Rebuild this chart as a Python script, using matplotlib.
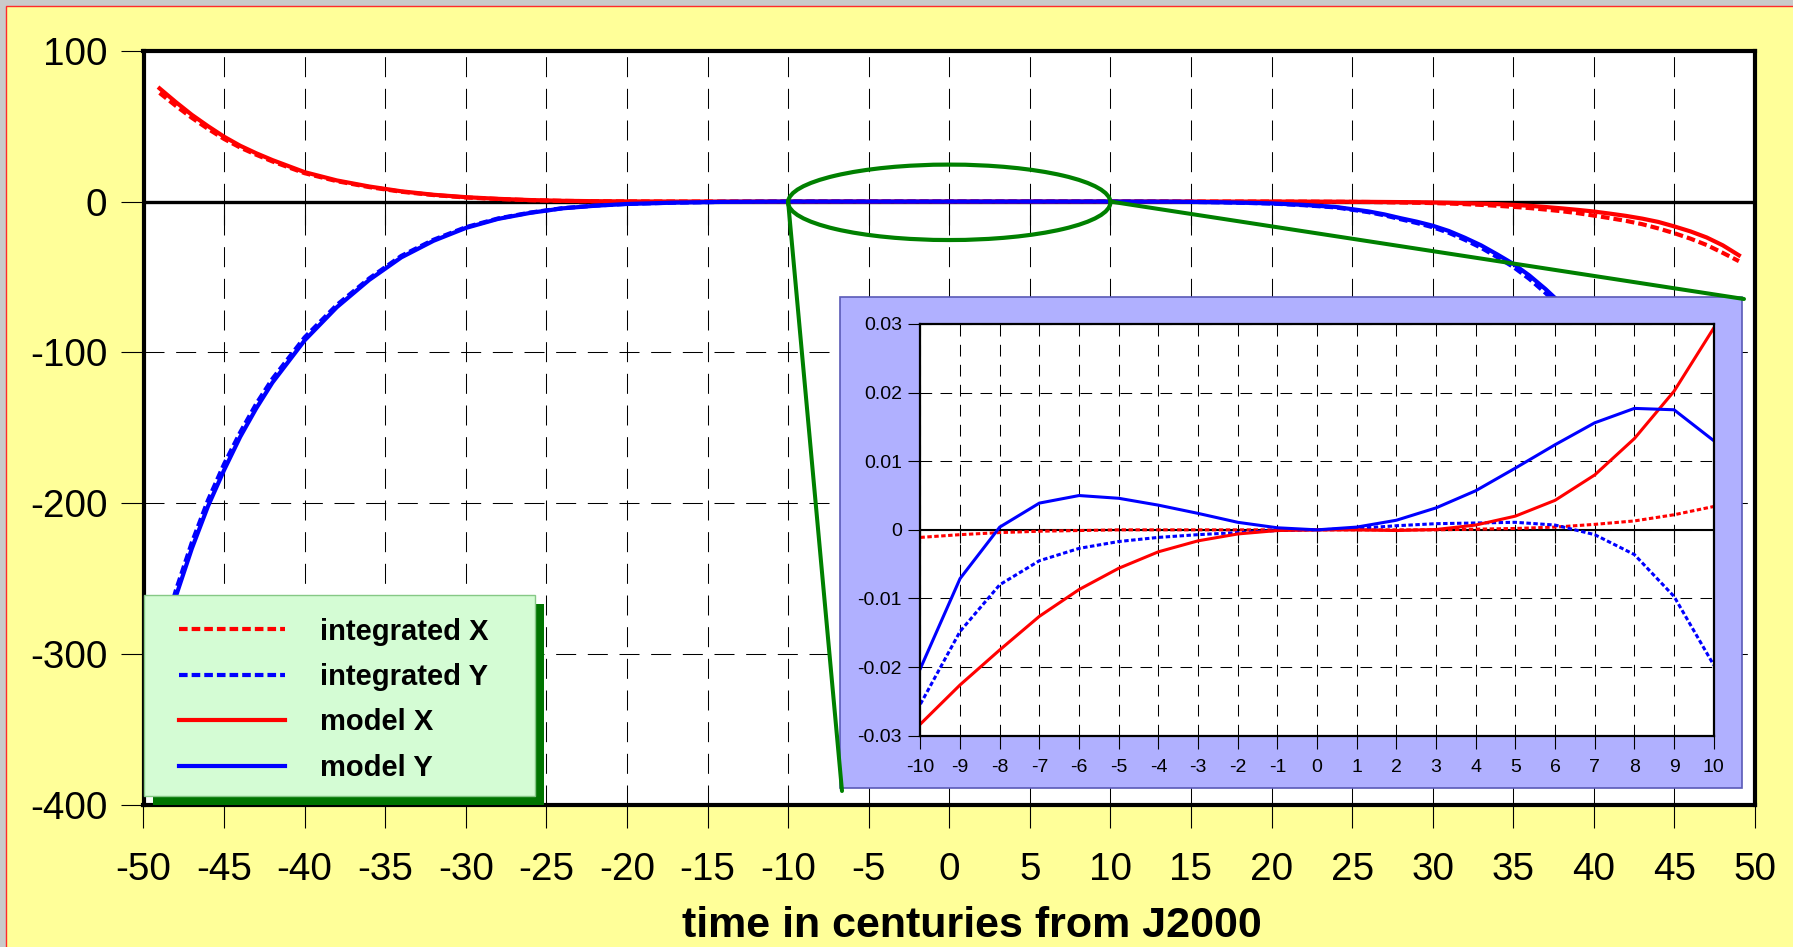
import matplotlib
matplotlib.use('Agg')
import matplotlib.pyplot as plt
from matplotlib.patches import Rectangle, Ellipse, ConnectionPatch

plt.rcParams['font.family'] = ['Liberation Sans', 'DejaVu Sans']
plt.rcParams['axes.unicode_minus'] = False
plt.rcParams['lines.scale_dashes'] = False

# ---------------- data ----------------
T = [-49, -48, -47, -46, -45, -44, -43, -42, -40, -38, -36, -34, -32, -30, -28,
     -26, -24, -22, -20, -17, -14, -10, -5, 0, 5, 10, 14, 17, 20, 22, 24, 26,
     27, 28, 29, 30, 31, 32, 33, 34, 35, 36, 37, 38, 39, 40, 41, 42, 43, 44,
     45, 46, 47, 48, 49]

MODEL_X = [75.0, 66.0, 57.5, 50.0, 43.0, 37.0, 32.0, 27.5, 19.5, 14.0, 10.0, 6.8,
           4.5, 2.9, 1.8, 1.0, 0.5, 0.25, 0.1, 0.03, 0, 0, 0, 0, 0, 0, 0, 0, 0,
           -0.03, -0.1, -0.2, -0.27, -0.35, -0.45, -0.6, -0.8, -1.1, -1.4, -1.7,
           -2.2, -2.8, -3.6, -4.5, -5.5, -6.6, -8.0, -9.5, -11.3, -13.5, -16.5,
           -19.8, -23.8, -29.0, -35.6]

INT_X = [72.0, 63.5, 55.5, 48.2, 41.5, 35.8, 31.0, 26.6, 18.8, 13.5, 9.6, 6.5,
         4.3, 2.7, 1.7, 0.9, 0.45, 0.2, 0.1, 0.02, 0, 0, 0, 0, 0, 0, 0, 0, 0,
         -0.05, -0.15, -0.3, -0.45, -0.6, -0.8, -1.0, -1.3, -1.7, -2.2, -2.8,
         -3.5, -4.3, -5.3, -6.4, -7.7, -9.3, -11.0, -12.8, -15.0, -17.8, -21.0,
         -24.6, -28.8, -34.0, -39.5]

MODEL_Y = [-300, -262, -230, -202, -178, -156, -137, -120, -92, -70, -52, -37,
           -26, -17.5, -11.5, -7.5, -4.5, -2.8, -1.6, -0.7, -0.2, 0, 0, 0, 0, 0,
           -0.1, -0.5, -1.2, -2.2, -3.6, -6.5, -8.5, -11, -13.3, -16, -19.5, -24,
           -29, -35, -41.3, -49, -58, -68, -80, -93, -108, -124, -142, -162,
           -184, -208, -234, -262, -292]

INT_Y = [-295, -258, -226, -198, -174, -153, -134, -117.5, -90, -68.5, -51, -36,
         -25.3, -17, -11.2, -7.3, -4.4, -2.7, -1.5, -0.7, -0.2, 0, 0, 0, 0, 0,
         -0.1, -0.5, -1.3, -2.4, -3.9, -7.0, -9.1, -11.7, -14.2, -17, -20.7,
         -25.4, -30.6, -36.8, -43.3, -51.3, -60.6, -71, -83.5, -97, -112, -129,
         -147, -168, -190, -215, -242, -270, -300]

# inset (zoom on -10..10 centuries)
IN_T = [-10, -9, -8, -7, -6, -5, -4, -3, -2, -1, 0, 1, 2, 3, 4, 5, 6, 7, 8, 9, 10]
IN_MODEL_X = [-0.0283, -0.0226, -0.0175, -0.0126, -0.0087, -0.0056, -0.0032,
              -0.0016, -0.0006, -0.0001, 0.0, 0.0, -0.0001, 0.00005, 0.0007,
              0.0020, 0.0043, 0.0080, 0.0133, 0.0202, 0.0294]
IN_MODEL_Y = [-0.0202, -0.0071, 0.0004, 0.0039, 0.0050, 0.0046, 0.0036, 0.0024,
              0.0011, 0.0003, 0.0, 0.0004, 0.0014, 0.0032, 0.0057, 0.0090,
              0.0124, 0.0156, 0.0177, 0.0175, 0.0130]
IN_INT_X = [-0.0011, -0.0007, -0.0004, -0.0002, -0.0001, 0.0, 0.0, 0.0, 0.0,
            0.0, 0.0, 0.0, 0.0, 0.0, 0.0001, 0.0002, 0.0004, 0.0008, 0.0013,
            0.0022, 0.0034]
IN_INT_Y = [-0.0254, -0.0148, -0.0080, -0.0045, -0.0027, -0.0017, -0.0011,
            -0.0007, -0.0004, -0.0001, 0.0, 0.0002, 0.0006, 0.0009, 0.0010,
            0.0011, 0.0007, -0.0007, -0.0036, -0.0097, -0.0197]

MAIN_XTICKS = [-50, -45, -40, -35, -30, -25, -20, -15, -10, -5, 0, 5, 10, 15,
               20, 25, 30, 35, 40, 45, 50]
MAIN_XLABELS = ['-50', '-45', '-40', '-35', '-30', '-25', '-20', '-15', '-10',
                '-5', '0', '5', '10', '15', '20', '25', '30', '35', '40', '45', '50']
MAIN_YTICKS = [-400, -300, -200, -100, 0, 100]
MAIN_YLABELS = ['-400', '-300', '-200', '-100', '0', '100']
IN_XTICKS = IN_T
IN_XLABELS = ['-10', '-9', '-8', '-7', '-6', '-5', '-4', '-3', '-2', '-1', '0',
              '1', '2', '3', '4', '5', '6', '7', '8', '9', '10']
IN_YTICKS = [-0.03, -0.02, -0.01, 0.0, 0.01, 0.02, 0.03]
IN_YLABELS = ['-0.03', '-0.02', '-0.01', '0', '0.01', '0.02', '0.03']

LABELS = ['integrated X', 'integrated Y', 'model X', 'model Y']
XLABEL = 'time in centuries from J2000'

# ---------------- styles ----------------
RED = '#FF0000'
BLUE = '#0000FF'
GREEN = '#008000'
DASH_MAIN = (0, (6.2, 2.9))
DASH_IN = (0, (3.2, 1.8))
GRID_MAIN = (0, (14.4, 8.4))
GRID_IN = (0, (8.4, 6.0))

W, H = 1793, 947
fig = plt.figure(figsize=(W / 100, H / 100), dpi=100, facecolor='#CACACA')


def fx(px):
    return px / W


def fy(py):
    return 1 - py / H


# yellow slide background with thin red border
fig.patches.append(Rectangle((fx(6), -0.05), 1.2, fy(6) + 0.05,
                             transform=fig.transFigure, facecolor='#FFFF99',
                             edgecolor='#FF2A2A', lw=1.0, zorder=-10))

# ---------------- main axes ----------------
L, R, TOP, BOT = 143.5, 1755, 50.7, 805
ax = fig.add_axes([fx(L), fy(BOT), (R - L) / W, (BOT - TOP) / H])
ax.set_facecolor('white')
ax.set_xlim(-50, 50)
ax.set_ylim(-400, 100)
ax.set_xticks(MAIN_XTICKS)
ax.set_xticklabels(MAIN_XLABELS)
ax.set_yticks(MAIN_YTICKS)
ax.set_yticklabels(MAIN_YLABELS)
ax.tick_params(axis='both', direction='out', length=16.5, width=0.8,
               color='black', labelsize=27.8)
ax.tick_params(axis='x', pad=17.5)
ax.tick_params(axis='y', pad=9.5)
for s in ax.spines.values():
    s.set_linewidth(3)
    s.set_color('black')
ax.set_axisbelow(True)
ax.grid(True, color='black', lw=0.75, linestyle=GRID_MAIN)
ax.axhline(0, color='black', lw=2.4, zorder=1.5)
ax.plot(MAIN_XTICKS, [0] * len(MAIN_XTICKS), ls='none', marker=3, ms=16.5,
        mew=0.8, color='black', zorder=1.6)

h_ix, = ax.plot(T, INT_X, color=RED, lw=3, ls=DASH_MAIN, zorder=2)
h_iy, = ax.plot(T, INT_Y, color=BLUE, lw=3, ls=DASH_MAIN, zorder=2)
h_mx, = ax.plot(T, MODEL_X, color=RED, lw=3, zorder=2.1)
h_my, = ax.plot(T, MODEL_Y, color=BLUE, lw=3, zorder=2.1)

ax.add_patch(Ellipse((0, -0.5), 20, 50, fill=False, edgecolor=GREEN, lw=3.0,
                     zorder=5, clip_on=False))

ax.set_xlabel(XLABEL, fontsize=31, fontweight='bold')
ax.xaxis.set_label_coords(0.514, -0.1335)

# ---------------- inset ----------------
BX0, BY0, BX1, BY1 = 840, 297, 1742, 788
fig.patches.append(Rectangle((fx(BX0), fy(BY1)), (BX1 - BX0) / W, (BY1 - BY0) / H,
                             transform=fig.transFigure, facecolor='#B0B0FF',
                             edgecolor='#5A5AB8', lw=1.2, zorder=1))

for xyA, xyB in [((-10, 0), (fx(BX0 + 2), fy(BY1 + 3))),
                 ((10, 0), (fx(BX1 + 2), fy(BY0 + 2)))]:
    cp = ConnectionPatch(xyA=xyA, coordsA=ax.transData, xyB=xyB,
                         coordsB=fig.transFigure, color=GREEN, lw=2.9,
                         zorder=1.5)
    fig.add_artist(cp)

IL, IR, IT, IB = 920.4, 1713.7, 324, 735.7
axin = fig.add_axes([fx(IL), fy(IB), (IR - IL) / W, (IB - IT) / H], zorder=2)
axin.set_facecolor('white')
axin.set_xlim(-10, 10)
axin.set_ylim(-0.03, 0.03)
axin.set_xticks(IN_XTICKS)
axin.set_xticklabels(IN_XLABELS)
axin.set_yticks(IN_YTICKS)
axin.set_yticklabels(IN_YLABELS)
axin.tick_params(axis='both', direction='out', length=9, width=0.8,
                 color='black', labelsize=14)
axin.tick_params(axis='x', pad=8)
axin.tick_params(axis='y', pad=4.3)
for s in axin.spines.values():
    s.set_linewidth(1.6)
    s.set_color('black')
axin.set_axisbelow(True)
axin.grid(True, color='black', lw=0.75, linestyle=GRID_IN)
axin.axhline(0, color='black', lw=1.5, zorder=1.5)
axin.plot(IN_XTICKS, [0] * len(IN_XTICKS), ls='none', marker=3, ms=9,
          mew=0.8, color='black', zorder=1.6)

axin.plot(IN_T, IN_INT_X, color=RED, lw=2.2, ls=DASH_IN, zorder=2)
axin.plot(IN_T, IN_INT_Y, color=BLUE, lw=2.2, ls=DASH_IN, zorder=2)
axin.plot(IN_T, IN_MODEL_X, color=RED, lw=2.2, zorder=2.1)
axin.plot(IN_T, IN_MODEL_Y, color=BLUE, lw=2.2, zorder=2.1)

# ---------------- legend ----------------
LGX0, LGY0, LGX1, LGY1 = 144, 595, 535, 796
SH = 9
fig.patches.append(Rectangle((fx(LGX0 + SH), fy(LGY1 + SH)), (LGX1 - LGX0) / W,
                             (LGY1 - LGY0) / H, transform=fig.transFigure,
                             facecolor='#007400', edgecolor='none', zorder=3))
fig.patches.append(Rectangle((fx(LGX0), fy(LGY1)), (LGX1 - LGX0) / W,
                             (LGY1 - LGY0) / H, transform=fig.transFigure,
                             facecolor='#D4FCD4', edgecolor='#86C886', lw=1.0,
                             zorder=3.1))
fig.legend(handles=[h_ix, h_iy, h_mx, h_my], labels=LABELS, loc='upper left',
           bbox_to_anchor=(fx(179), fy(617.5)), frameon=False, borderpad=0,
           borderaxespad=0, handlelength=3.63, handletextpad=1.22,
           labelspacing=0.6, prop={'weight': 'bold', 'size': 21}).set_zorder(5)

fig.savefig('out.png', dpi=100, facecolor=fig.get_facecolor())
